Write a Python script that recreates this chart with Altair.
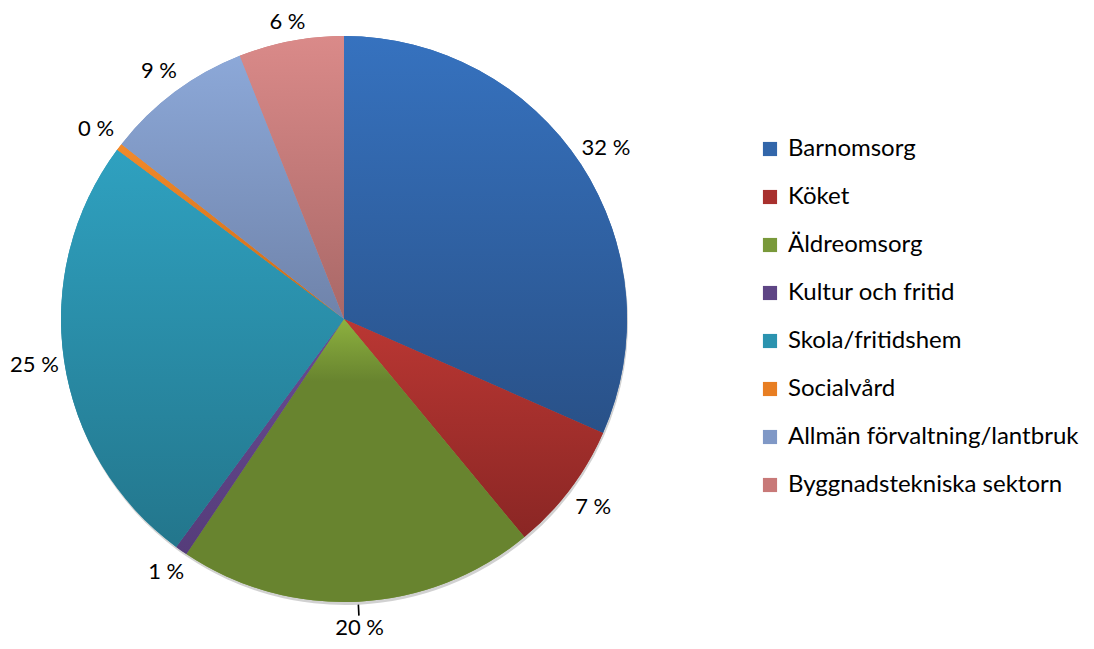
import altair as alt
import pandas as pd

categories = ["Barnomsorg", "Köket", "Äldreomsorg", "Kultur och fritid",
              "Skola/fritidshem", "Socialvård", "Allmän förvaltning/lantbruk",
              "Byggnadstekniska sektorn"]
values = [31.6, 7.4, 20.4, 0.7, 25.1, 0.4, 8.4, 6.0]
labels = ["32 %", "7 %", "20 %", "1 %", "25 %", "0 %", "9 %", "6 %"]
legend_colors = ["#3266AA", "#A8302E", "#79993A", "#5E4585", "#2B93AF", "#E87E22", "#8098C6", "#C87978"]
top_colors = ["#3672BF", "#BA3733", "#8DB13F", "#6A4C93", "#2FA1C0", "#F28A2B", "#8CA8D8", "#DA8A89"]
bottom_colors = ["#295188", "#8A2624", "#68842F", "#553C7A", "#23768C", "#C96A17", "#6F83AA", "#A96867"]

df = pd.DataFrame({"cat": categories, "value": values, "label": labels,
                   "order": list(range(len(categories)))})

CX, CY, R = 336, 311, 283

base = (
    alt.Chart(df)
    .transform_window(cum="sum(value)", sort=[alt.SortField("order")], frame=[None, 0])
    .transform_joinaggregate(total="sum(value)")
    .transform_calculate(t1="2*PI*(datum.cum - datum.value)/datum.total")
    .transform_calculate(t2="2*PI*datum.cum/datum.total")
    .transform_calculate(tm="(datum.t1 + datum.t2)/2")
)

pos = dict(x=alt.value(CX), y=alt.value(CY))

shadow = base.mark_arc(radius=R, fill="#000000", opacity=0.18, strokeWidth=0).encode(
    theta=alt.Theta("t1:Q", scale=None), theta2="t2:Q",
    x=alt.value(CX + 1), y=alt.value(CY + 3),
)

legend_layer = base.mark_arc(radius=R, strokeWidth=0).encode(
    theta=alt.Theta("t1:Q", scale=None), theta2="t2:Q",
    color=alt.Color("cat:N", sort=categories,
                    scale=alt.Scale(domain=categories, range=legend_colors),
                    legend=alt.Legend(title=None, orient="none", legendX=750, legendY=129,
                                      symbolType="square", symbolSize=200,
                                      symbolStrokeWidth=0, labelFont="Lato",
                                      labelFontSize=24, labelColor="#000000",
                                      rowPadding=24, labelOffset=6, padding=0,
                                      labelLimit=400)),
    **pos,
)

layers = [shadow, legend_layer]
for i, c in enumerate(categories):
    if c == "Äldreomsorg":
        stops = [alt.GradientStop(offset=0, color=top_colors[i]),
                 alt.GradientStop(offset=0.22, color=bottom_colors[i]),
                 alt.GradientStop(offset=1, color=bottom_colors[i])]
    else:
        stops = [alt.GradientStop(offset=0, color=top_colors[i]),
                 alt.GradientStop(offset=1, color=bottom_colors[i])]
    grad = alt.LinearGradient(gradient="linear", stops=stops, x1=0, y1=0, x2=0, y2=1)
    layers.append(
        base.transform_filter(alt.datum.cat == c)
        .mark_arc(radius=R, fill=grad, strokeWidth=0)
        .encode(theta=alt.Theta("t1:Q", scale=None), theta2="t2:Q", **pos)
    )

leader = (
    base.transform_filter(alt.datum.cat == "Äldreomsorg")
    .transform_calculate(l1="datum.tm - 0.0028", l2="datum.tm + 0.0028")
    .mark_arc(radius=286, radius2=297, fill="#000000", strokeWidth=0)
    .encode(theta=alt.Theta("l1:Q", scale=None), theta2="l2:Q", **pos)
)
layers.append(leader)

text = (
    base.transform_calculate(
        rr="datum.cat == 'Äldreomsorg' ? 309 : 290 + abs(sin(datum.tm))*22 + abs(cos(datum.tm))*8"
    )
    .mark_text(font="Lato", fontSize=22, color="#000000")
    .encode(theta=alt.Theta("tm:Q", scale=None), radius=alt.Radius("rr:Q", scale=None),
            text="label:N", **pos)
)
layers.append(text)

chart = alt.layer(*layers).properties(
    width=1078, height=633, autosize="none", padding=0
).configure_view(stroke=None)

chart.save("out.html", embed_options={"renderer": "svg", "actions": False})
